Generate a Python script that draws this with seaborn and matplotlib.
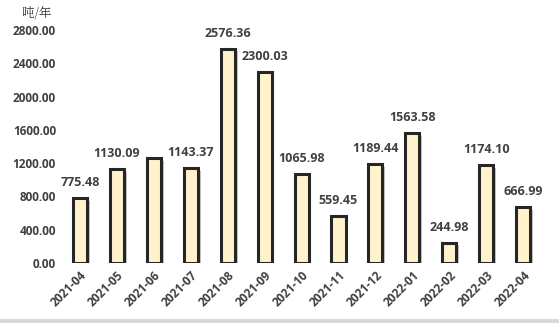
import matplotlib
matplotlib.use("Agg")
import matplotlib.pyplot as plt
import matplotlib.patheffects as pe
import seaborn as sns
import pandas as pd

months = ["2021-04", "2021-05", "2021-06", "2021-07", "2021-08", "2021-09", "2021-10",
          "2021-11", "2021-12", "2022-01", "2022-02", "2022-03", "2022-04"]
values = [775.48, 1130.09, 1260.0, 1143.37, 2576.36, 2300.03, 1065.98,
          559.45, 1189.44, 1563.58, 244.98, 1174.10, 666.99]
labels = ["775.48", "1130.09", "", "1143.37", "2576.36", "2300.03", "1065.98",
          "559.45", "1189.44", "1563.58", "244.98", "1174.10", "666.99"]
yticks = [0, 400, 800, 1200, 1600, 2000, 2400, 2800]
unit = "吨/年"

sns.set_theme(style="white")
plt.rcParams['font.family'] = ['Open Sans', 'Noto Sans CJK SC', 'DejaVu Sans']

df = pd.DataFrame({"month": months, "value": values})
fig = plt.figure(figsize=(5.59, 3.23), dpi=100)
ax = fig.add_axes([0.11, 0.186, 0.859, 0.721])

sns.barplot(data=df, x="month", y="value", ax=ax, color="#FFF2CC", width=0.38,
            edgecolor="#262626", linewidth=2.2, saturation=1)
for p in ax.patches:
    p.set_path_effects([pe.SimplePatchShadow(offset=(2, -2), alpha=0.35, shadow_rgbFace="#555555"), pe.Normal()])

for i, (v, lab) in enumerate(zip(values, labels)):
    if lab:
        ax.annotate(lab, (i, v), xytext=(0, 6.5), textcoords="offset points",
                    ha="center", va="bottom", fontsize=9, color="#404040", fontweight="bold")

ax.set_ylim(0, 2800)
ax.set_xlim(-0.5, len(months) - 0.5)
ax.set_yticks(yticks)
ax.set_yticklabels([f"{t:.2f}" for t in yticks], fontsize=8.5, color="#404040", fontweight="bold")
ax.set_xticks(range(len(months)))
ax.set_xticklabels(months, rotation=45, ha="right", rotation_mode="anchor",
                   fontsize=8.5, color="#404040", fontweight="bold")
ax.tick_params(axis="both", length=0, pad=4)
ax.set_xlabel("")
ax.set_ylabel("")
for s in ax.spines.values():
    s.set_visible(False)

fig.text(0.039, 0.957, unit, fontsize=9, color="#333333", va="center",
         family=['Noto Serif CJK SC', 'Noto Sans CJK SC', 'DejaVu Sans'])

from matplotlib.patches import Rectangle
fig.patches.append(Rectangle((0.0, 0.0), 1.0, 0.012, transform=fig.transFigure,
                             facecolor="#d9d9d9", edgecolor="none"))

fig.savefig("out.png", dpi=100)
